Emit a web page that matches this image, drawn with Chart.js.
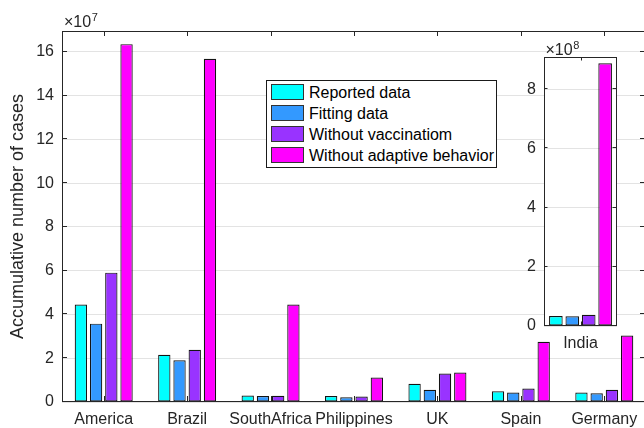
<!DOCTYPE html>
<html>
<head>
<meta charset="utf-8">
<script src="https://cdn.jsdelivr.net/npm/chart.js@4.4.1/dist/chart.umd.min.js"></script>
<style>
  html, body { margin: 0; padding: 0; overflow: hidden; background: #fff; }
  #wrap { position: relative; width: 644px; height: 428px; overflow: hidden; }
  #main { position: absolute; left: 0; top: 0; }
  #inset { position: absolute; left: 490px; top: 30px; }
  #legend {
    position: absolute; left: 266px; top: 80px; width: 231px; height: 88px;
    box-sizing: border-box; border: 1px solid #1a1a1a; background: #fff;
    font-family: "Liberation Sans", Arial, Helvetica, sans-serif; font-size: 16px; color: #000;
  }
  .sw { position: absolute; left: 4px; width: 33px; height: 16px; box-sizing: border-box; border: 1px solid #333; }
  .lt { position: absolute; left: 42px; height: 16px; line-height: 16px; white-space: nowrap; }
</style>
</head>
<body>
<div id="wrap">
  <canvas id="main" width="660" height="428"></canvas>
  <canvas id="inset" width="150" height="330"></canvas>
  <div id="legend"></div>
</div>
<script>
// Countries on the main axis
const categories = ['America', 'Brazil', 'SouthAfrica', 'Philippines', 'UK', 'Spain', 'Germany'];
const seriesNames = ['Reported data', 'Fitting data', 'Without vaccinatiom', 'Without adaptive behavior'];

// Accumulative number of cases per country
const reported      = [4.45e7, 2.16e7, 0.30e7, 0.27e7, 0.83e7, 0.49e7, 0.43e7];
const fitting       = [3.58e7, 1.91e7, 0.27e7, 0.22e7, 0.56e7, 0.43e7, 0.40e7];
const noVaccination = [5.91e7, 2.39e7, 0.28e7, 0.25e7, 1.30e7, 0.62e7, 0.56e7];
const noAdaptive    = [16.35e7, 15.68e7, 4.45e7, 1.12e7, 1.35e7, 2.75e7, 3.04e7];

// India, shown in its own small axes
const insetCategories    = ['India'];
const indiaReported      = [0.34e8];
const indiaFitting       = [0.33e8];
const indiaNoVaccination = [0.38e8];
const indiaNoAdaptive    = [8.88e8];

// Tick labels (in units of the axis exponent)
const mainTicks  = [0, 2, 4, 6, 8, 10, 12, 14, 16];   // ×10^7
const insetTicks = [0, 2, 4, 6, 8];                   // ×10^8

const seriesColors = ['#00ffff', '#3399ff', '#9933ff', '#ff00ff'];
const FONT = '"Liberation Sans", Arial, Helvetica, sans-serif';
const INK = '#262626';

// Box, inward tick marks and the ×10^n exponent label
const framePlugin = {
  id: 'frame',
  beforeDraw(chart, args, opts) {
    if (opts.fillArea) {
      const a = chart.chartArea, ctx = chart.ctx;
      ctx.save();
      ctx.fillStyle = '#ffffff';
      ctx.fillRect(a.left, a.top, a.right - a.left, a.bottom - a.top);
      ctx.restore();
    }
  },
  afterDatasetsDraw(chart, args, opts) {
    const { ctx, chartArea: a, scales: { x, y } } = chart;
    const L = opts.tickLen;
    ctx.save();
    ctx.strokeStyle = INK;
    ctx.lineWidth = 1;
    ctx.beginPath();
    x.ticks.forEach((t, i) => {
      const px = Math.round(x.getPixelForTick(i)) + 0.5;
      ctx.moveTo(px, a.bottom - 1); ctx.lineTo(px, a.bottom - 1 - L);
      ctx.moveTo(px, a.top); ctx.lineTo(px, a.top + L);
    });
    y.ticks.forEach((t, i) => {
      const py = Math.round(y.getPixelForTick(i)) - 0.5;
      ctx.moveTo(a.left, py); ctx.lineTo(a.left + L, py);
      ctx.moveTo(a.right, py); ctx.lineTo(a.right - 1 - L, py);
    });
    ctx.stroke();
    ctx.strokeRect(a.left + 0.5, a.top + 0.5, a.right - a.left - 1, a.bottom - a.top - 1);

    ctx.fillStyle = INK;
    ctx.textAlign = 'left';
    ctx.textBaseline = 'alphabetic';
    ctx.font = '16px ' + FONT;
    const bx = a.left + opts.expDx, by = a.top - opts.expDy;
    ctx.fillText('\u00d710', bx, by);
    const w = ctx.measureText('\u00d710').width;
    ctx.font = '11px ' + FONT;
    ctx.fillText(opts.exponent, bx + w + 0.5, by - 6);
    ctx.restore();
  }
};

function datasetsFrom(arrays) {
  return arrays.map((data, i) => ({
    label: seriesNames[i],
    data: data,
    backgroundColor: seriesColors[i],
    borderColor: '#141414',
    borderWidth: 1.2,
    borderSkipped: false
  }));
}

function axesOptions(cfg) {
  return {
    x: {
      type: 'category',
      offset: true,
      grid: { display: false, drawTicks: false },
      border: { display: false },
      ticks: { color: INK, font: { family: FONT, size: 16 }, padding: 8, maxRotation: 0, autoSkip: false },
      afterFit: s => { s.height = cfg.xHeight; }
    },
    y: {
      min: 0,
      max: cfg.max,
      grid: { color: '#e3e3e3', lineWidth: 1, drawTicks: false },
      border: { display: false },
      afterBuildTicks: s => { s.ticks = cfg.ticks.map(v => ({ value: v * cfg.unit })); },
      ticks: {
        color: INK, font: { family: FONT, size: 16 }, padding: 8,
        callback: v => String(Math.round(v / cfg.unit))
      },
      title: cfg.title ? {
        display: true, text: cfg.title, color: INK,
        font: { family: FONT, size: 18 }, padding: { top: 7, bottom: 0 }
      } : { display: false },
      afterFit: s => { s.width = cfg.yWidth; }
    }
  };
}

Chart.defaults.font.family = FONT;

// Main grouped bar chart
new Chart(document.getElementById('main'), {
  type: 'bar',
  data: {
    labels: categories,
    datasets: datasetsFrom([reported, fitting, noVaccination, noAdaptive])
  },
  options: {
    responsive: false,
    animation: false,
    layout: { padding: { left: 0, right: 14, top: 31, bottom: 0 } },
    datasets: { bar: { categoryPercentage: 0.73, barPercentage: 0.81 } },
    plugins: {
      legend: { display: false },
      tooltip: { enabled: false },
      frame: { tickLen: 5, exponent: '7', expDx: 2, expDy: 4 }
    },
    scales: axesOptions({
      max: 1.695e8, unit: 1e7, ticks: mainTicks,
      title: 'Accumulative number of cases', yWidth: 62, xHeight: 26
    })
  },
  plugins: [framePlugin]
});

// India inset
new Chart(document.getElementById('inset'), {
  type: 'bar',
  data: {
    labels: insetCategories,
    datasets: datasetsFrom([indiaReported, indiaFitting, indiaNoVaccination, indiaNoAdaptive])
  },
  options: {
    responsive: false,
    animation: false,
    layout: { padding: { left: 0, right: 23, top: 27, bottom: 0 } },
    datasets: { bar: { categoryPercentage: 0.9, barPercentage: 0.83 } },
    plugins: {
      legend: { display: false },
      tooltip: { enabled: false },
      frame: { tickLen: 3.5, exponent: '8', expDx: 1.5, expDy: 2.5, fillArea: true }
    },
    scales: axesOptions({
      max: 9.09e8, unit: 1e8, ticks: insetTicks,
      title: null, yWidth: 54, xHeight: 34
    })
  },
  plugins: [framePlugin]
});

// Legend box
const legend = document.getElementById('legend');
seriesNames.forEach((name, i) => {
  const top = 3 + i * 21;
  const sw = document.createElement('div');
  sw.className = 'sw';
  sw.style.top = top + 'px';
  sw.style.background = seriesColors[i];
  legend.appendChild(sw);
  const t = document.createElement('div');
  t.className = 'lt';
  t.style.top = (top + 1) + 'px';
  t.textContent = name;
  legend.appendChild(t);
});
</script>
</body>
</html>
